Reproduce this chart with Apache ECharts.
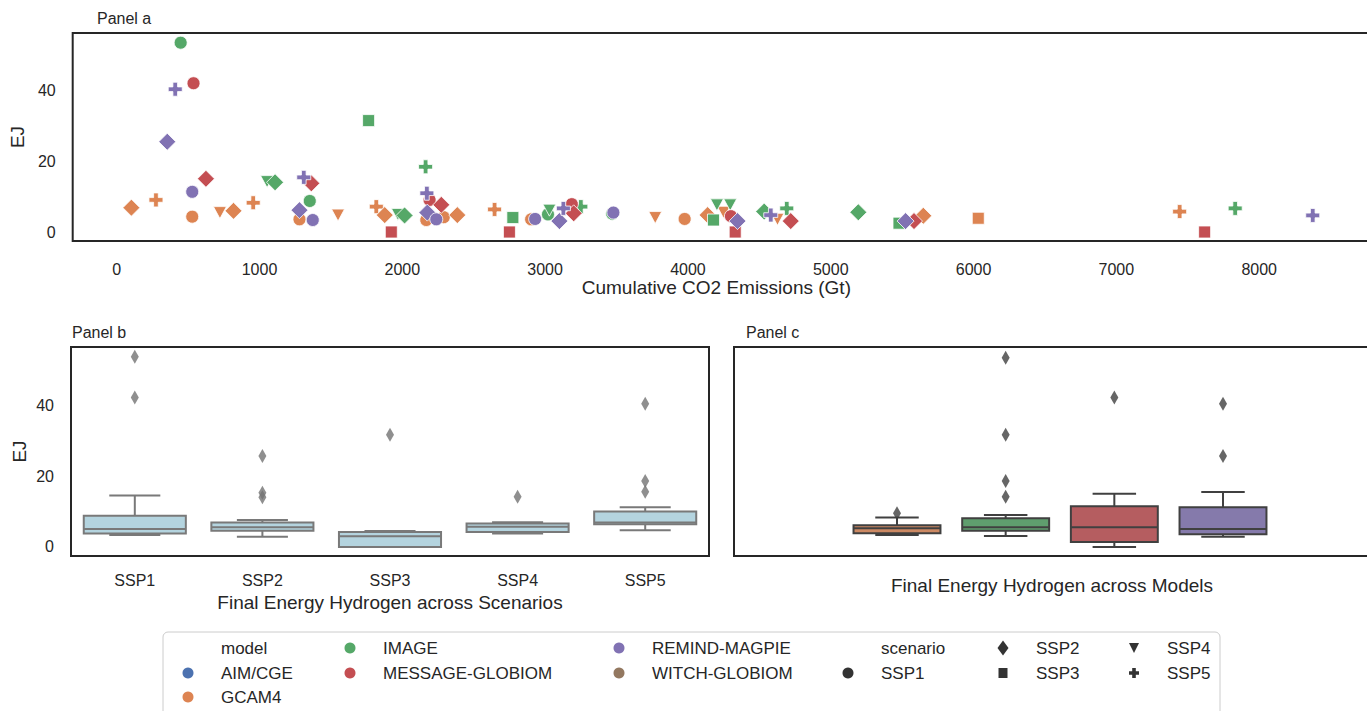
<!DOCTYPE html>
<html>
<head>
<meta charset="utf-8">
<script src="https://cdn.jsdelivr.net/npm/echarts@6/dist/echarts.min.js"></script>
<style>
  html, body { margin: 0; padding: 0; background: #fff; overflow: hidden; }
  #chart { width: 1400px; height: 711px; }
</style>
</head>
<body>
<div id="chart"></div>
<script>
// ---- data -------------------------------------------------------------
const models = ['AIM/CGE', 'GCAM4', 'IMAGE', 'MESSAGE-GLOBIOM', 'REMIND-MAGPIE', 'WITCH-GLOBIOM'];
const modelColors = ['#4C72B0', '#DD8452', '#55A868', '#C44E52', '#8172B3', '#937860'];
const modelBoxColors = ['#5875a4', '#cc8963', '#5f9e6e', '#b55d60', '#857aab', '#8d7866'];
const scenarios = ['SSP1', 'SSP2', 'SSP3', 'SSP4', 'SSP5'];
const xTicks = [0, 1000, 2000, 3000, 4000, 5000, 6000, 7000, 8000];
const yTicks = [0, 20, 40];

// [cumulative CO2 emissions (Gt), final energy hydrogen (EJ), scenario]
const gcam4Points = [
  [103, 6.9, 'SSP2'], [275, 9.1, 'SSP5'], [529, 4.35, 'SSP1'], [723, 5.5, 'SSP4'],
  [818, 6.0, 'SSP2'], [956, 8.3, 'SSP5'], [1280, 3.6, 'SSP1'], [1550, 4.8, 'SSP4'],
  [1818, 7.2, 'SSP5'], [1877, 4.8, 'SSP2'], [2168, 3.4, 'SSP1'], [2290, 4.2, 'SSP1'],
  [2385, 4.8, 'SSP2'], [2646, 6.4, 'SSP5'], [2902, 3.6, 'SSP1'], [3771, 4.1, 'SSP4'],
  [3977, 3.7, 'SSP1'], [4138, 4.8, 'SSP2'], [4250, 5.6, 'SSP4'], [4627, 3.6, 'SSP4'],
  [5648, 4.6, 'SSP2'], [6033, 3.9, 'SSP3'], [7443, 5.8, 'SSP5']
];
const imagePoints = [
  [448, 53.7, 'SSP1'], [1053, 14.3, 'SSP4'], [1109, 14.1, 'SSP2'], [1352, 8.8, 'SSP1'],
  [1764, 31.6, 'SSP3'], [1969, 5.0, 'SSP4'], [2016, 4.7, 'SSP2'], [2163, 18.5, 'SSP5'],
  [2774, 4.1, 'SSP3'], [3020, 5.0, 'SSP1'], [3030, 6.2, 'SSP4'], [3250, 7.2, 'SSP5'],
  [3470, 5.2, 'SSP1'], [4179, 3.4, 'SSP3'], [4203, 7.7, 'SSP4'], [4296, 7.7, 'SSP4'],
  [4534, 5.8, 'SSP2'], [4692, 6.7, 'SSP5'], [5193, 5.6, 'SSP2'], [5478, 2.5, 'SSP3'],
  [7832, 6.7, 'SSP5']
];
const messagePoints = [
  [538, 42.2, 'SSP1'], [625, 15.1, 'SSP2'], [1363, 13.8, 'SSP2'], [1923, 0.0, 'SSP3'],
  [2191, 9.1, 'SSP1'], [2273, 7.7, 'SSP2'], [2750, 0.0, 'SSP3'], [3187, 7.9, 'SSP1'],
  [3200, 5.3, 'SSP2'], [4301, 4.5, 'SSP1'], [4331, 0.0, 'SSP3'], [4720, 3.1, 'SSP2'],
  [5583, 3.1, 'SSP2'], [7618, 0.0, 'SSP3']
];
const remindPoints = [
  [354, 25.6, 'SSP2'], [410, 40.5, 'SSP5'], [529, 11.4, 'SSP1'], [1280, 6.2, 'SSP2'],
  [1310, 15.5, 'SSP5'], [1373, 3.4, 'SSP1'], [2172, 11.0, 'SSP5'], [2175, 5.5, 'SSP2'],
  [2238, 3.6, 'SSP1'], [2930, 3.7, 'SSP1'], [3100, 3.1, 'SSP2'], [3128, 6.7, 'SSP5'],
  [3478, 5.5, 'SSP1'], [4347, 3.1, 'SSP2'], [4580, 4.8, 'SSP5'], [5524, 3.1, 'SSP2'],
  [8375, 4.7, 'SSP5']
];

// box statistics: [lower whisker, Q1, median, Q3, upper whisker]
const scenarioBoxes = [
  [3.4, 3.8, 5.1, 8.8, 14.5],
  [2.9, 4.6, 5.6, 6.9, 7.6],
  [0.0, 0.0, 3.0, 4.2, 4.5],
  [3.8, 4.2, 5.7, 6.6, 7.0],
  [4.7, 6.4, 6.9, 10.0, 11.2]
];
// [scenario index, value]
const scenarioOutliers = [
  [0, 53.7], [0, 42.2], [1, 25.7], [1, 15.3], [1, 14.0],
  [2, 31.7], [3, 14.2], [4, 40.4], [4, 18.6], [4, 15.6]
];
// per model (AIM/CGE and WITCH-GLOBIOM report no values)
const modelBoxes = [
  null,
  [3.4, 3.85, 5.25, 6.1, 8.3],
  [3.1, 4.6, 5.6, 8.1, 9.0],
  [0.0, 1.4, 5.6, 11.5, 15.0],
  [2.9, 3.6, 5.1, 11.2, 15.5],
  null
];
// [model index, value]
const modelOutliers = [
  [1, 9.5], [2, 53.4], [2, 31.7], [2, 18.6], [2, 14.2],
  [3, 42.2], [4, 40.4], [4, 25.7]
];

// ---- styling helpers ---------------------------------------------------
const INK = '#262626';
const FONT = '"Liberation Sans", Arial, Helvetica, sans-serif';
const plusPath = 'path://M1,0H2V1H3V2H2V3H1V2H0V1H1Z';
const triDownPath = 'path://M0,0L2,0L1,1.75Z';
const scenarioSymbols = ['circle', 'diamond', 'rect', triDownPath, plusPath];
const scenarioSizes = [13, 17, 12, [13, 12], 14];

function scatterSeries(name, color, points) {
  return {
    type: 'scatter', name, xAxisIndex: 0, yAxisIndex: 0,
    data: points,
    symbol: v => scenarioSymbols[scenarios.indexOf(v[2])],
    symbolSize: v => scenarioSizes[scenarios.indexOf(v[2])],
    itemStyle: { color, borderColor: '#fff', borderWidth: 0.8, opacity: 1 },
    emphasis: { disabled: true }
  };
}

function boxRenderer(fills, stroke) {
  return function (params, api) {
    const c = api.value(0);
    const p = [1, 2, 3, 4, 5].map(i => api.coord([c, api.value(i)]));
    const x = p[0][0];
    const bw = api.size([1, 0])[0] * 0.8;
    const st = { stroke, lineWidth: 2 };
    const line = (x1, y1, x2, y2) => ({ type: 'line', shape: { x1, y1, x2, y2 }, style: st });
    return {
      type: 'group',
      children: [
        line(x, p[0][1], x, p[1][1]),
        line(x, p[3][1], x, p[4][1]),
        line(x - bw / 4, p[0][1], x + bw / 4, p[0][1]),
        line(x - bw / 4, p[4][1], x + bw / 4, p[4][1]),
        { type: 'rect', shape: { x: x - bw / 2, y: p[3][1], width: bw, height: p[1][1] - p[3][1] },
          style: { fill: fills[c], stroke, lineWidth: 2 } },
        line(x - bw / 2, p[2][1], x + bw / 2, p[2][1])
      ]
    };
  };
}

const scenarioBoxData = scenarioBoxes.map((b, i) => [i].concat(b));
const modelBoxData = modelBoxes.map((b, i) => b ? [i].concat(b) : null).filter(Boolean);

// ---- legend (drawn as graphic elements) --------------------------------
const legendRows = [648, 673, 697];
const legendTextX = [221, 383, 652, 881, 1036, 1167];
const legendEntries = [
  { label: 'model' },
  ...models.map((m, i) => ({ label: m, marker: 'circle', color: modelColors[i] })),
  { label: 'scenario' },
  ...scenarios.map((s, i) => ({ label: s, marker: ['circle', 'diamond', 'square', 'tri', 'plus'][i], color: '#333333' }))
];
function legendMarker(kind, cx, cy, color) {
  const st = { fill: color };
  if (kind === 'circle') return { type: 'circle', shape: { cx, cy, r: 5.5 }, style: st };
  if (kind === 'square') return { type: 'rect', shape: { x: cx - 4.5, y: cy - 5, width: 9, height: 10 }, style: st };
  if (kind === 'diamond') return { type: 'polygon', shape: { points: [[cx, cy - 7.5], [cx + 5.5, cy], [cx, cy + 7.5], [cx - 5.5, cy]] }, style: st };
  if (kind === 'tri') return { type: 'polygon', shape: { points: [[cx - 5, cy - 5], [cx + 5, cy - 5], [cx, cy + 5]] }, style: st };
  const a = 5, b = 1.8;
  return { type: 'polygon', shape: { points: [
    [cx - b, cy - a], [cx + b, cy - a], [cx + b, cy - b], [cx + a, cy - b], [cx + a, cy + b], [cx + b, cy + b],
    [cx + b, cy + a], [cx - b, cy + a], [cx - b, cy + b], [cx - a, cy + b], [cx - a, cy - b], [cx - b, cy - b]] }, style: st };
}
const legendGraphics = [{
  type: 'rect', shape: { x: 163, y: 632, width: 1057, height: 100, r: 5 },
  style: { fill: '#ffffff', stroke: '#cccccc', lineWidth: 1 }, z: 0
}];
// columns are filled top to bottom: the first column takes 3 rows, the others 2
legendEntries.forEach((e, k) => {
  const col = k < 3 ? 0 : 1 + Math.floor((k - 3) / 2);
  const row = k < 3 ? k : (k - 3) % 2;
  const tx = legendTextX[col], ty = legendRows[row];
  if (e.marker) legendGraphics.push(Object.assign(legendMarker(e.marker, tx - 33, ty, e.color), { z: 1 }));
  legendGraphics.push({ type: 'text', x: tx, y: ty, z: 1,
    style: { text: e.label, fill: INK, font: '17px ' + FONT, textVerticalAlign: 'middle', textAlign: 'left' } });
});

// ---- chart -------------------------------------------------------------
const axisLabelStyle = { color: INK, fontSize: 16, fontFamily: FONT };
const nameStyle = { color: INK, fontSize: 19, fontFamily: FONT };
const titleStyle = { color: INK, fontSize: 16, fontWeight: 'normal', fontFamily: FONT };
const yRange = { min: -2.55, max: 56.45 };
const plain = v => String(v);

const chart = echarts.init(document.getElementById('chart'), null, { renderer: 'svg' });
chart.setOption({
  animation: false,
  backgroundColor: '#ffffff',
  title: [
    { text: 'Panel a', left: 97, top: 10, padding: 0, textStyle: titleStyle },
    { text: 'Panel b', left: 72, top: 324, padding: 0, textStyle: titleStyle },
    { text: 'Panel c', left: 746, top: 324, padding: 0, textStyle: titleStyle }
  ],
  grid: [
    { left: 71, top: 33, width: 1315, height: 208, show: true, borderColor: INK, borderWidth: 2 },
    { left: 71, top: 347, width: 638, height: 209, show: true, borderColor: INK, borderWidth: 2 },
    { left: 734, top: 347, width: 652, height: 209, show: true, borderColor: INK, borderWidth: 2 }
  ],
  xAxis: [
    { gridIndex: 0, type: 'value', min: -308, max: 8888,
      axisLine: { show: false, onZero: false }, axisTick: { show: false }, splitLine: { show: false },
      axisLabel: Object.assign({ customValues: xTicks, margin: 20, formatter: plain }, axisLabelStyle),
      name: 'Cumulative CO2 Emissions (Gt)', nameLocation: 'middle', nameGap: 37,
      nameTextStyle: Object.assign({ padding: [0, 26, 0, 0] }, nameStyle) },
    { gridIndex: 1, type: 'category', data: scenarios,
      axisLine: { show: false, onZero: false }, axisTick: { show: false }, splitLine: { show: false },
      axisLabel: Object.assign({ margin: 16 }, axisLabelStyle),
      name: 'Final Energy Hydrogen across Scenarios', nameLocation: 'middle', nameGap: 37, nameTextStyle: nameStyle },
    { gridIndex: 2, type: 'category', data: models,
      axisLine: { show: false, onZero: false }, axisTick: { show: false }, splitLine: { show: false },
      axisLabel: { show: false },
      name: 'Final Energy Hydrogen across Models', nameLocation: 'middle', nameGap: 20,
      nameTextStyle: Object.assign({ padding: [0, 16, 0, 0] }, nameStyle) }
  ],
  yAxis: [
    Object.assign({ gridIndex: 0, type: 'value',
      axisLine: { show: false, onZero: false }, axisTick: { show: false }, splitLine: { show: false },
      axisLabel: Object.assign({ customValues: yTicks, margin: 17, formatter: plain }, axisLabelStyle),
      name: 'EJ', nameLocation: 'middle', nameGap: 42, nameTextStyle: nameStyle }, yRange),
    Object.assign({ gridIndex: 1, type: 'value',
      axisLine: { show: false, onZero: false }, axisTick: { show: false }, splitLine: { show: false },
      axisLabel: Object.assign({ customValues: yTicks, margin: 17, formatter: plain }, axisLabelStyle),
      name: 'EJ', nameLocation: 'middle', nameGap: 42, nameTextStyle: nameStyle }, yRange),
    Object.assign({ gridIndex: 2, type: 'value',
      axisLine: { show: false, onZero: false }, axisTick: { show: false }, splitLine: { show: false },
      axisLabel: { show: false } }, yRange)
  ],
  series: [
    scatterSeries('GCAM4', modelColors[1], gcam4Points),
    scatterSeries('IMAGE', modelColors[2], imagePoints),
    scatterSeries('MESSAGE-GLOBIOM', modelColors[3], messagePoints),
    scatterSeries('REMIND-MAGPIE', modelColors[4], remindPoints),
    {
      type: 'custom', name: 'scenario boxes', xAxisIndex: 1, yAxisIndex: 1,
      data: scenarioBoxData, encode: { x: 0, y: [1, 2, 3, 4, 5] },
      renderItem: boxRenderer(scenarios.map(() => '#b4d4df'), '#797979'), silent: true
    },
    {
      type: 'scatter', name: 'scenario outliers', xAxisIndex: 1, yAxisIndex: 1,
      data: scenarioOutliers, symbol: 'diamond', symbolSize: [8, 14],
      itemStyle: { color: '#737373' }, silent: true
    },
    {
      type: 'custom', name: 'model boxes', xAxisIndex: 2, yAxisIndex: 2,
      data: modelBoxData, encode: { x: 0, y: [1, 2, 3, 4, 5] },
      renderItem: boxRenderer(modelBoxColors, '#404040'), silent: true
    },
    {
      type: 'scatter', name: 'model outliers', xAxisIndex: 2, yAxisIndex: 2,
      data: modelOutliers, symbol: 'diamond', symbolSize: [8, 14],
      itemStyle: { color: '#404040' }, silent: true
    }
  ],
  graphic: legendGraphics
});
</script>
</body>
</html>
